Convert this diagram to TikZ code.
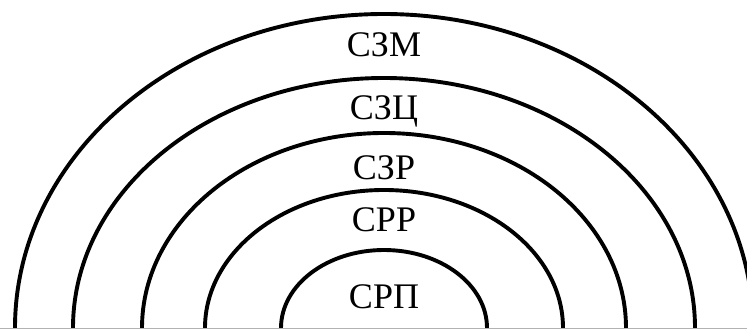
\documentclass[tikz,border=0pt]{standalone}
\usepackage{fontspec}
\setmainfont{Liberation Serif}
\begin{document}
\begin{tikzpicture}[x=1pt,y=1pt,
  ring/.style={line width=3.9pt,black},
  lbl/.style={font=\fontsize{36}{36}\selectfont,inner sep=0pt,anchor=center}]
\useasboundingbox (0,0) rectangle (747,329);
\begin{scope}
\clip (0,0) rectangle (747,329);
\coordinate (c) at (384,1);
\draw[ring] (384-369,1) arc[start angle=180,end angle=0,x radius=369,y radius=314];
\draw[ring] (384-311,1) arc[start angle=180,end angle=0,x radius=311,y radius=250];
\draw[ring] (384-242,1) arc[start angle=180,end angle=0,x radius=242,y radius=195];
\draw[ring] (384-179,1) arc[start angle=180,end angle=0,x radius=179,y radius=138];
\draw[ring] (384-103,1) arc[start angle=180,end angle=0,x radius=103,y radius=78];
\draw[line width=0.8pt,gray!60] (0,0.5) -- (747,0.5);
\end{scope}
\node[lbl] (szm) at (384,284) {СЗМ};
\node[lbl] (szc) at (384,218) {СЗЦ};
\node[lbl] (szr) at (384,161) {СЗР};
\node[lbl] (srr) at (384,109) {СРР};
\node[lbl] (srp) at (384,32) {СРП};
\end{tikzpicture}
\end{document}
